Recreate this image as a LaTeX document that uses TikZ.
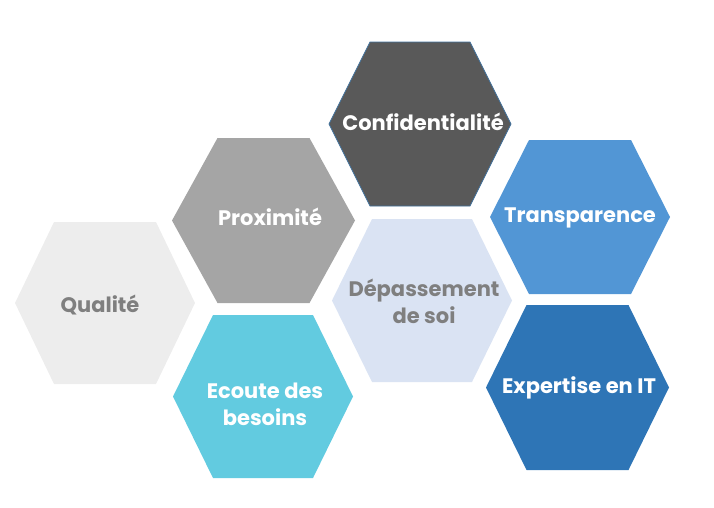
\documentclass[tikz,border=0pt]{standalone}
\usepackage{fontspec}
\setmainfont{Poppins}
\definecolor{cConf}{HTML}{595959}
\definecolor{cConfB}{HTML}{41719C}
\definecolor{cProx}{HTML}{A5A5A5}
\definecolor{cDep}{HTML}{DAE3F3}
\definecolor{cTrans}{HTML}{5296D5}
\definecolor{cExp}{HTML}{2E75B6}
\definecolor{cEco}{HTML}{62CBE0}
\definecolor{cQual}{HTML}{EDEDED}
\definecolor{cGrayTxt}{HTML}{7F7F7F}
\newcommand\hexcell[6]{%
  % #1 cx, #2 cy, #3 half width, #4 half height, #5 top half length, #6 style
  \path[#6] (#1-#3,#2) -- (#1-#5,#2-#4) -- (#1+#5,#2-#4) -- (#1+#3,#2)
    -- (#1+#5,#2+#4) -- (#1-#5,#2+#4) -- cycle;}
\tikzset{
  lbl/.style={font=\fontsize{21}{27}\selectfont\bfseries, align=center, inner sep=0pt},
  whitetxt/.style={lbl, text=white},
  graytxt/.style={lbl, text=cGrayTxt},
}
\begin{document}
\begin{tikzpicture}[x=1pt,y=-1pt]
\useasboundingbox (0,0) rectangle (714,507);
\hexcell{420}{124}{91}{82}{50}{fill=cConf, draw=cConfB, line width=0.8pt}
\hexcell{263.5}{220.5}{91.5}{82.5}{46}{fill=cProx}
\hexcell{422}{300.5}{90}{81.5}{50}{fill=cDep}
\hexcell{580}{217}{90}{77}{51}{fill=cTrans}
\hexcell{577.5}{387.5}{91.5}{82.5}{51}{fill=cExp}
\hexcell{263}{396.5}{90}{81.5}{50}{fill=cEco}
\hexcell{105}{303}{90}{81}{51}{fill=cQual}
\node[whitetxt] (conf) at (423,122) {Confidentialité};
\node[whitetxt] (prox) at (270,217) {Proximité};
\node[graytxt] (dep) at (424,301) {Dépassement\\de soi};
\node[whitetxt] (trans) at (580,218) {Transparence};
\node[whitetxt] (exp) at (579,388) {Expertise en IT};
\node[whitetxt] (eco) at (265,404) {Ecoute des\\besoins};
\node[graytxt] (qual) at (100,305) {Qualité};
\end{tikzpicture}
\end{document}
